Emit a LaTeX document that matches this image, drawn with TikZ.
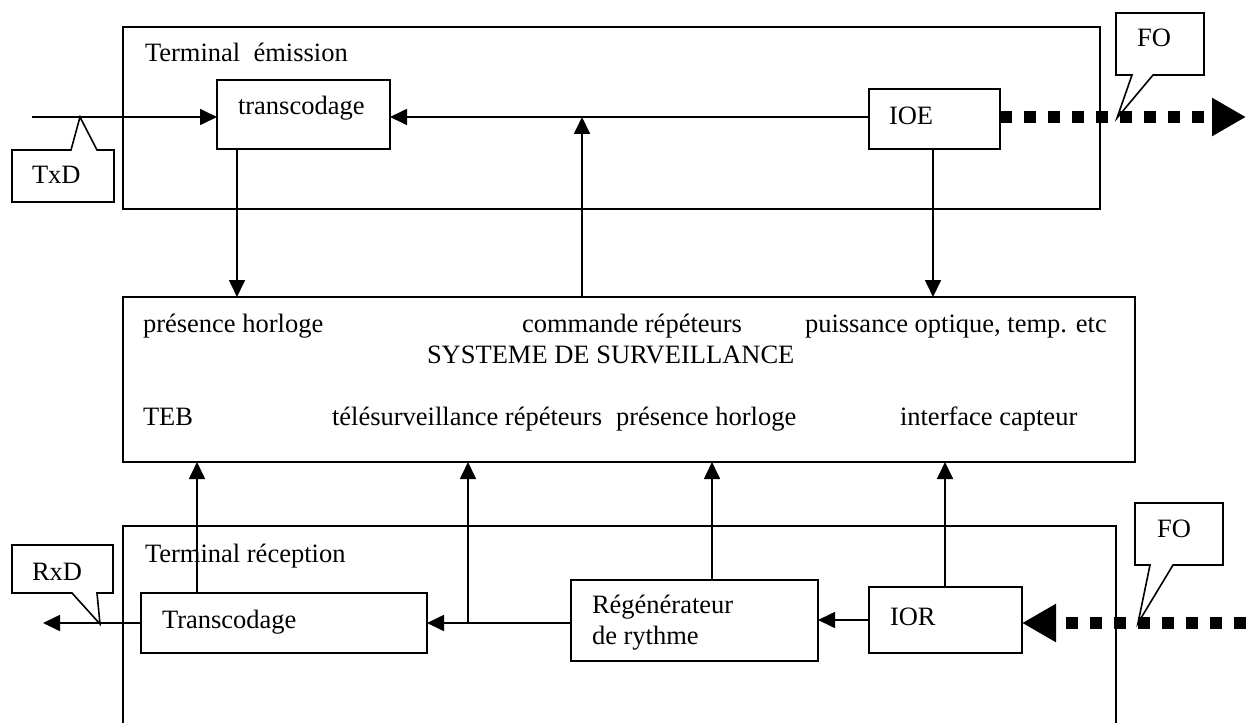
\documentclass[tikz,border=0pt]{standalone}
\usepackage{fontspec}
\setmainfont{Liberation Serif}
\usetikzlibrary{arrows.meta}
\begin{document}
\begin{tikzpicture}[x=1pt,y=-1pt,
  every node/.style={font=\fontsize{26.5}{31}\selectfont, inner sep=0pt, outer sep=0pt},
  box/.style={draw, line width=1.9pt, anchor=north west},
  txt/.style={anchor=base west},
  arr/.style={line width=1.7pt, -{Triangle[length=17pt,width=16pt]}},
  fiber/.style={line width=12pt, dash pattern=on 12pt off 12pt, -{Triangle[length=34pt,width=36pt]}},
  callout/.style={draw, line width=1.6pt}]
\useasboundingbox (0,0) rectangle (1246,722);

% boxes
\node[box, minimum width=977, minimum height=182] (tx) at (123,27) {};
\node[box, minimum width=173, minimum height=69] (tr1) at (217,80) {};
\node[box, minimum width=131, minimum height=60] (ioe) at (869,89) {};
\node[box, minimum width=1012, minimum height=165] (sys) at (123,297) {};
\node[box, minimum width=993, minimum height=260] (rx) at (123,526) {};
\node[box, minimum width=286, minimum height=60] (tx2) at (141,593) {};
\node[box, minimum width=247, minimum height=81] (reg) at (571,580) {};
\node[box, minimum width=153, minimum height=66] (ior) at (869,587) {};

% texts
\node[txt] (ltx) at (145,62) {Terminal\ \ émission};
\node[txt] (ltr1) at (238,115) {transcodage};
\node[txt] (lioe) at (889,125) {IOE};
\node[txt] (ls1) at (143,332) {présence horloge};
\node[txt] (ls2) at (522,332) {commande répéteurs};
\node[txt] (ls3) at (805,332) {puissance optique, temp. etc};
\node[txt] (ls4) at (427,363) {SYSTEME DE SURVEILLANCE};
\node[txt] (ls5) at (143,425) {TEB};
\node[txt] (ls6) at (332,425) {télésurveillance répéteurs};
\node[txt] (ls7) at (616,425) {présence horloge};
\node[txt] (ls8) at (900,425) {interface capteur};
\node[txt] (lrx) at (145,562) {Terminal réception};
\node[txt] (ltx2) at (162,628) {Transcodage};
\node[txt] (lreg1) at (592,613) {Régénérateur};
\node[txt] (lreg2) at (592,644) {de rythme};
\node[txt] (lior) at (890,625) {IOR};

% callouts
\draw[callout] (12,150) -- (71,150) -- (80,117) -- (97,150) -- (114,150) -- (114,202) -- (12,202) -- cycle;
\node[txt] (ltxd) at (32,183) {TxD};
\draw[callout] (12,545) -- (113,545) -- (113,593) -- (97,593) -- (100,624) -- (72,593) -- (12,593) -- cycle;
\node[txt] (lrxd) at (32,580) {RxD};
\draw[callout] (1116,13) -- (1204,13) -- (1204,75) -- (1153,75) -- (1117,118) -- (1132,75) -- (1116,75) -- cycle;
\node[txt] (lfo1) at (1137,47) {FO};
\draw[callout] (1135,503) -- (1223,503) -- (1223,565) -- (1173,565) -- (1138,623) -- (1150,565) -- (1135,565) -- cycle;
\node[txt] (lfo2) at (1157,537) {FO};

% coordinates
\coordinate (txin) at (32,117);
\coordinate (jt) at (582,117);
\coordinate (foout) at (1246,117);
\coordinate (rxout) at (43,623);
\coordinate (jr) at (468,623);
\coordinate (fin) at (1246,623);
\coordinate (xa) at (237,0);
\coordinate (xb) at (933,0);
\coordinate (xc) at (197,0);
\coordinate (xd) at (712,0);
\coordinate (xe) at (945,0);

% top connectors
\draw[arr] (txin) -- (txin -| tr1.west);
\draw[arr] (ioe.west |- jt) -- (tr1.east |- jt);
\draw[arr] (sys.north -| jt) -- (jt);
\draw[arr] (tr1.south -| xa) -- (sys.north -| xa);
\draw[arr] (ioe.south -| xb) -- (sys.north -| xb);
\draw[fiber] (ioe.east |- jt) -- (foout);

% bottom connectors
\draw[arr] (tx2.north -| xc) -- (sys.south -| xc);
\draw[arr] (reg.west |- jr) -- (tx2.east |- jr);
\draw[arr] (jr) -- (sys.south -| jr);
\draw[arr] (reg.north -| xd) -- (sys.south -| xd);
\draw[arr] (ior.north -| xe) -- (sys.south -| xe);
\draw[arr] (ior.west) -- (reg.east |- ior.west);
\draw[arr] (tx2.west |- jr) -- (rxout);
\draw[fiber] (fin) -- (ior.east |- fin);
\end{tikzpicture}
\end{document}
